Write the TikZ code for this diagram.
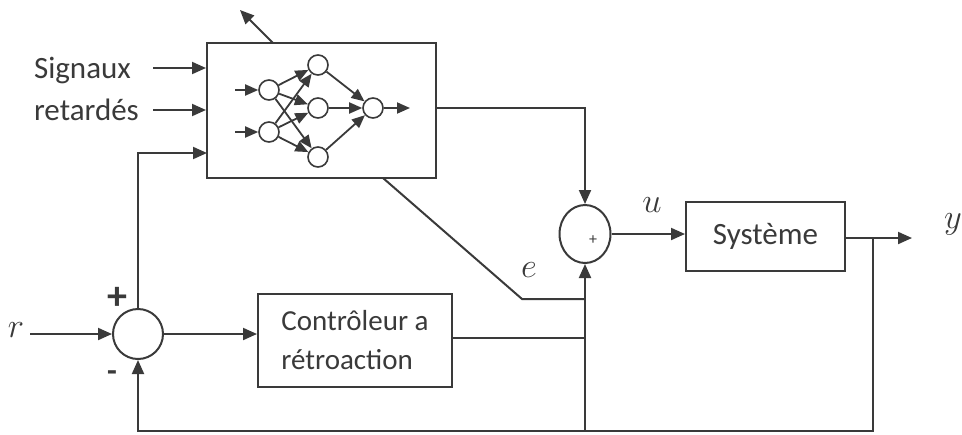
\documentclass[tikz,border=0pt]{standalone}
\usepackage{fontspec}
\setmainfont{Carlito}
\usetikzlibrary{positioning, arrows.meta, shapes.geometric, calc}
\definecolor{mygray}{HTML}{3A3A3A}

\begin{document}
\begin{tikzpicture}[
    x=0.5pt, y=-0.5pt,
    font=\fontsize{14.5}{19.5}\selectfont,
    every node/.style={text=mygray},
    % Estilos de los nodos
    block/.style={
        rectangle,
        draw=mygray,
        fill=white,
        line width=1pt,
        align=left
    },
    sumnode/.style={circle, draw=mygray, line width=1pt, minimum size=25pt, inner sep=0pt},
    neuron/.style={circle, draw=mygray, line width=0.8pt, minimum size=10pt, inner sep=0pt},
    mathlabel/.style={font=\fontsize{19}{19}\selectfont},
    % Estilos de las flechas
    line/.style={draw=mygray, line width=1pt},
    arrow/.style={line, -{Triangle[length=7pt, width=6pt]}},
    narrow/.style={draw=mygray, line width=0.9pt, -{Triangle[length=6.5pt, width=5.5pt]}}
]
\useasboundingbox (0,0) rectangle (962,434);

% -- Bloques --
\node[block, minimum width=114.5pt, minimum height=67.5pt] (nn) at (321.5,110.5) {};
\node[block, minimum width=79.5pt, minimum height=34.5pt, font=\fontsize{15.5}{19.5}\selectfont] (sys) at (765.5,236.5) {Système};
\node[block, minimum width=97pt, minimum height=46.5pt] (ctrl) at (355,340.5) {Contrôleur a\\rétroaction};

% -- Sumadores --
\node[sumnode] (sumr) at (138,334) {};
\node[sumnode, ellipse, minimum width=25.5pt, minimum height=29pt] (sumu) at (585,234) {};
\node[font=\fontsize{8}{8}\selectfont, inner sep=0pt] (plusu) at (593,240) {+};

% -- Red neuronal --
\node[neuron] (in1) at (269,90) {};
\node[neuron] (in2) at (269,132) {};
\node[neuron] (hid1) at (318,65) {};
\node[neuron] (hid2) at (318,108) {};
\node[neuron] (hid3) at (318,157) {};
\node[neuron] (outn) at (373,108) {};
\coordinate (nnx1) at (235,90);
\coordinate (nnx2) at (235,132);
\coordinate (nny) at (410,108);

\draw[narrow] (nnx1) -- (in1);
\draw[narrow] (nnx2) -- (in2);
\draw[narrow] (in1) -- (hid1);
\draw[narrow] (in1) -- (hid2);
\draw[narrow] (in1) -- (hid3);
\draw[narrow] (in2) -- (hid1);
\draw[narrow] (in2) -- (hid2);
\draw[narrow] (in2) -- (hid3);
\draw[narrow] (hid1) -- (outn);
\draw[narrow] (hid2) -- (outn);
\draw[narrow] (hid3) -- (outn);
\draw[narrow] (outn) -- (nny);

% -- Etiquetas --
\node[align=left, anchor=west, font=\fontsize{15.5}{21}\selectfont] (sig) at (27,89) {Signaux\\retardés};
\node[mathlabel] (rlab) at (16,330) {$r$};
\node[mathlabel] (ulab) at (652,205) {$u$};
\node[mathlabel] (elab) at (529,270) {$e$};
\node[mathlabel] (ylab) at (953,224) {$y$};
\node[font=\fontsize{20}{20}\selectfont\bfseries] (plusr) at (117,298) {+};
\node[font=\fontsize{16}{16}\selectfont\bfseries] (minusr) at (112,376) {-};

% -- Puntos auxiliares --
\coordinate (sig1) at (153,68);
\coordinate (sig2) at (153,110);
\coordinate (nnin3) at (207,153);
\coordinate (adapt0) at (273,43);
\coordinate (adapt) at (240,10);
\coordinate (diag0) at (383,178);
\coordinate (diag1) at (522,299);
\coordinate (rin) at (30,334);
\coordinate (yout) at (912,238);
\coordinate (branch) at (873,238);
\coordinate (fb) at (873,431);

% -- Conexiones --
\draw[arrow] (sig1) -- (sig1 -| nn.west);
\draw[arrow] (sig2) -- (sig2 -| nn.west);
\draw[arrow] (sumr.north) |- (nnin3);
\draw[arrow] (adapt0) -- (adapt);
\draw[arrow] (nn.east |- nny) -| (sumu.north);
\draw[line] (diag0) -- (diag1) -- (diag1 -| sumu.south);
\draw[line] (ctrl.east |- 0,338) -- (sumu.south |- 0,338);
\draw[arrow] (sumu.south |- fb) -- (sumu.south);
\draw[arrow] (sumu.east) -- (sys.west |- sumu.east);
\draw[arrow] (sys.east |- yout) -- (yout);
\draw[arrow] (branch) -- (fb) -| (sumr.south);
\draw[arrow] (rin) -- (sumr.west);
\draw[arrow] (sumr.east) -- (ctrl.west |- sumr.east);

\end{tikzpicture}
\end{document}
